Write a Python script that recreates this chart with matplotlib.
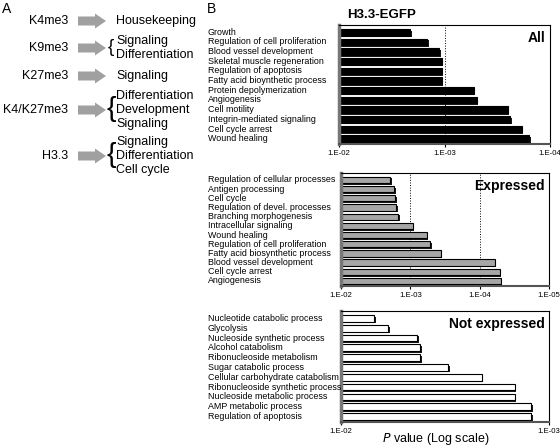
import matplotlib.pyplot as plt
import matplotlib.patheffects as pe
from matplotlib.patches import FancyArrow
from matplotlib.transforms import blended_transform_factory

plt.rcParams["font.family"] = ["Liberation Sans", "DejaVu Sans"]

# panel A
marks = ["K4me3", "K9me3", "K27me3", "K4/K27me3", "H3.3"]
functions = [
    ["Housekeeping"],
    ["Signaling", "Differentiation"],
    ["Signaling"],
    ["Differentiation", "Development", "Signaling"],
    ["Signaling", "Differentiation", "Cell cycle"],
]

# panel B, P values
all_terms = [
    "Growth", "Regulation of cell proliferation", "Blood vessel development",
    "Skeletal muscle regeneration", "Regulation of apoptosis",
    "Fatty acid bioynthetic process", "Protein depolymerization", "Angiogenesis",
    "Cell motility", "Integrin-mediated signaling", "Cell cycle arrest",
    "Wound healing",
]
all_p = [2.12e-3, 1.46e-3, 1.12e-3, 1.06e-3, 1.06e-3, 1.06e-3,
         5.3e-4, 4.95e-4, 2.52e-4, 2.38e-4, 1.86e-4, 1.57e-4]

expr_terms = [
    "Regulation of cellular processes", "Antigen processing", "Cell cycle",
    "Regulation of devel. processes", "Branching morphogenesis",
    "Intracellular signaling", "Wound healing",
    "Regulation of cell proliferation", "Fatty acid biosynthetic process",
    "Blood vessel development", "Cell cycle arrest", "Angiogenesis",
]
expr_p = [1.97e-3, 1.71e-3, 1.67e-3, 1.60e-3, 1.49e-3, 9.3e-4,
          5.8e-4, 5.2e-4, 3.67e-4, 6.05e-5, 5.13e-5, 4.97e-5]

notexpr_terms = [
    "Nucleotide catabolic process", "Glycolysis", "Nucleoside synthetic process",
    "Alcohol catabolism", "Ribonucleoside metabolism", "Sugar catabolic process",
    "Cellular carbohydrate catabolism", "Ribonucleoside synthetic process",
    "Nucleoside metabolic process", "AMP metabolic process",
    "Regulation of apoptosis",
]
notexpr_p = [6.95e-3, 5.93e-3, 4.31e-3, 4.16e-3, 4.16e-3, 3.05e-3,
             2.11e-3, 1.46e-3, 1.46e-3, 1.22e-3, 1.22e-3]

fig = plt.figure(figsize=(5.6, 4.46), dpi=100)

# ---- panel A drawn in pixel coordinates ----
axa = fig.add_axes([0, 0, 1, 1])
axa.set_xlim(0, 560)
axa.set_ylim(446, 0)
axa.axis("off")

axa.text(2, 9, "A", fontsize=10, va="center")
axa.text(207, 9, "B", fontsize=10, va="center")

mark_y = [21, 48, 76, 110, 156]
for mark, funcs, y in zip(marks, functions, mark_y):
    axa.text(68, y, mark, fontsize=9, ha="right", va="center")
    axa.add_patch(FancyArrow(78, y, 17, 0, width=9, head_width=15,
                             head_length=11, length_includes_head=False,
                             color="#a0a0a0", lw=0))
    n = len(funcs)
    ys = [y + (i - (n - 1) / 2) * 14 for i in range(n)]
    for fy, f in zip(ys, funcs):
        axa.text(116, fy, f, fontsize=9, ha="left", va="center")
    if n > 1:
        axa.text(111, y - 1, "{", fontsize=6.8 * n, ha="center", va="center",
                 fontweight="light")

axa.text(382, 15, "H3.3-EGFP", fontsize=9.5, fontweight="bold",
         ha="center", va="center")
axa.text(436, 439, "$P$ value (Log scale)", fontsize=9, ha="center",
         va="center")

# ---- panel B ----
panels = [
    (all_terms, all_p, "black", (1e-2, 1e-4), [1e-3], "All",
     [339 / 560, 302 / 446, 211 / 560, 119 / 446]),
    (expr_terms, expr_p, "#a6a6a6", (1e-2, 1e-5), [1e-3, 1e-4], "Expressed",
     [341 / 560, 160 / 446, 208 / 560, 113 / 446]),
    (notexpr_terms, notexpr_p, "white", (1e-2, 1e-3), [], "Not expressed",
     [341 / 560, 24 / 446, 208 / 560, 111 / 446]),
]

for terms, pvals, color, lims, grid, name, rect in panels:
    ax = fig.add_axes(rect)
    ax.set_xscale("log")
    n = len(terms)
    ys = list(range(n))
    ax.barh(ys, [p - lims[0] for p in pvals], left=lims[0], height=0.68,
            color=color, edgecolor="black", linewidth=0.8,
            path_effects=[pe.SimplePatchShadow(offset=(1.2, -1.2),
                                               shadow_rgbFace="black", alpha=0.9),
                          pe.Normal()])
    ax.set_xlim(lims)
    ax.set_ylim(n - 0.45, -0.75)
    for g in grid:
        ax.axvline(g, color="black", ls=":", lw=0.7, zorder=0)
    ticks = [10.0 ** -k for k in range(2, 6) if 10.0 ** -k >= lims[1]]
    ax.set_xticks(ticks)
    ax.set_xticklabels(["1.E-%02d" % k for k in range(2, 2 + len(ticks))],
                       fontsize=5.6)
    ax.xaxis.set_minor_locator(plt.NullLocator())
    ax.tick_params(axis="x", length=2, pad=2)
    ax.set_yticks([])
    for s in ax.spines.values():
        s.set_linewidth(0.8)
    ax.spines["bottom"].set_linewidth(1.5)
    ax.spines["bottom"].set_color("#555555")
    ax.spines["left"].set_linewidth(2.5)
    ax.spines["left"].set_color("#777777")
    ax.text(0.98, 0.95, name, transform=ax.transAxes, ha="right", va="top",
            fontsize=10, fontweight="bold")
    tr = blended_transform_factory(fig.transFigure, ax.transData)
    for y, t in zip(ys, terms):
        ax.text(208 / 560, y, t, transform=tr, ha="left", va="center",
                fontsize=6.4)

fig.savefig("out.png", dpi=100)
